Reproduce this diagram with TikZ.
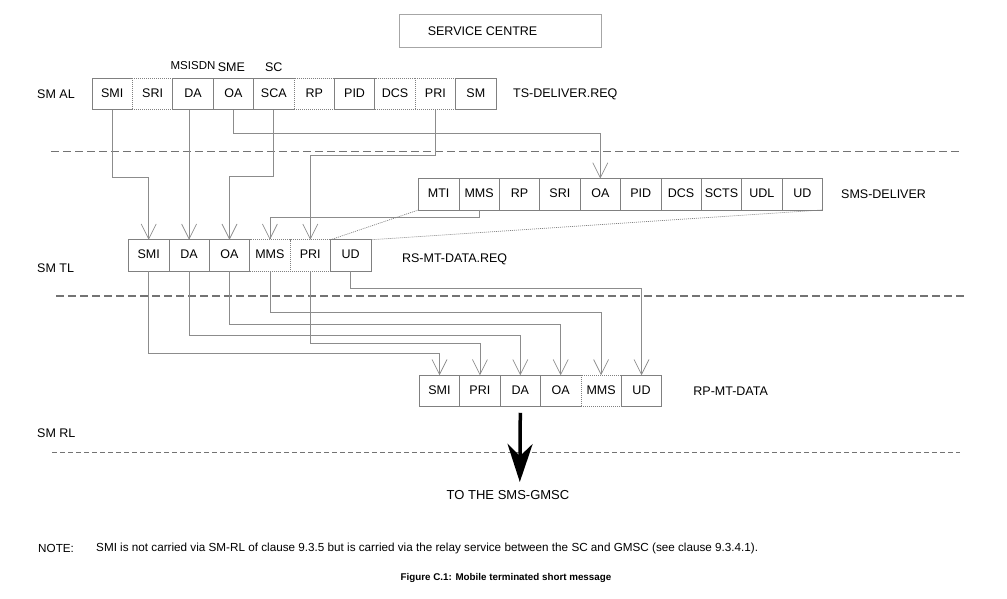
\documentclass[tikz,border=0pt]{standalone}
\usepackage{fontspec}
\setmainfont{Liberation Sans}
\usetikzlibrary{positioning,arrows.meta,calc}
\definecolor{boxgray}{gray}{0.5}
\definecolor{linegray}{gray}{0.55}
\definecolor{dashgray}{gray}{0.45}

\begin{document}
\begin{tikzpicture}[x=1pt,y=-1pt]

    \tikzstyle{field}=[draw=boxgray, line width=0.8pt, rectangle, fill=white, minimum height=31.5pt, minimum width=40.4pt, inner sep=0pt, outer sep=0pt, text height=9pt, text depth=3pt, font=\fontsize{12.5}{14}\selectfont];
    \tikzstyle{optfield}=[field, dash pattern=on 1pt off 1pt];
    \tikzstyle{lbl}=[inner sep=0pt, font=\fontsize{12.5}{14}\selectfont];
    \tikzstyle{link}=[draw=linegray, line width=0.7pt, -{Straight Barb[length=15pt,width=15pt]}];
    \tikzstyle{zoomline}=[draw=boxgray, line width=0.7pt, dash pattern=on 1pt off 1pt];
    \tikzstyle{layer}=[draw=dashgray, line width=1.2pt, dash pattern=on 8pt off 4pt];

    \useasboundingbox (0,0) rectangle (1007,598);

    % service centre
    \node (sc) at (500.5,30.7) [draw=boxgray!70, line width=0.8pt, rectangle, minimum height=33pt, minimum width=202pt]{};
    \node [lbl, right=28.5pt of sc.west]{SERVICE CENTRE};

    % SM AL : TS-DELIVER.REQ
    \node (aSMI) at (112.2,94) [field]{SMI};
    \node (aSRI) [optfield, right=0pt of aSMI]{SRI};
    \node (aDA) [field, right=0pt of aSRI]{DA};
    \node (aOA) [field, right=0pt of aDA]{OA};
    \node (aSCA) [field, right=0pt of aOA]{SCA};
    \node (aRP) [optfield, right=0pt of aSCA]{RP};
    \node (aPID) [field, right=0pt of aRP]{PID};
    \node (aDCS) [optfield, right=0pt of aPID]{DCS};
    \node (aPRI) [optfield, right=0pt of aDCS]{PRI};
    \node (aSM) [field, right=0pt of aPRI]{SM};
    \node (tsdeliver) [lbl, right=17pt of aSM]{TS-DELIVER.REQ};
    \node (smal) [lbl, anchor=west] at (37,94){SM AL};

    \node (msisdn) [lbl, font=\fontsize{11.5}{13}\selectfont, above=8pt of aDA]{MSISDN};
    \node (sme) [lbl, above=6.5pt of aOA, xshift=-2pt]{SME};
    \node (scaddr) [lbl, above=6.5pt of aSCA]{SC};

    % SMS-DELIVER
    \node (dMTI) at (438.7,194.2) [field]{MTI};
    \node (dMMS) [field, right=0pt of dMTI]{MMS};
    \node (dRP) [field, right=0pt of dMMS]{RP};
    \node (dSRI) [field, right=0pt of dRP]{SRI};
    \node (dOA) [field, right=0pt of dSRI]{OA};
    \node (dPID) [field, right=0pt of dOA]{PID};
    \node (dDCS) [field, right=0pt of dPID]{DCS};
    \node (dSCTS) [field, right=0pt of dDCS]{SCTS};
    \node (dUDL) [field, right=0pt of dSCTS]{UDL};
    \node (dUD) [field, right=0pt of dUDL]{UD};
    \node (smsdeliver) [lbl, right=18.5pt of dUD]{SMS-DELIVER};

    % SM TL : RS-MT-DATA.REQ
    \node (tSMI) at (148.7,255.5) [field]{SMI};
    \node (tDA) [field, right=0pt of tSMI]{DA};
    \node (tOA) [field, right=0pt of tDA]{OA};
    \node (tMMS) [optfield, right=0pt of tOA]{MMS};
    \node (tPRI) [optfield, right=0pt of tMMS]{PRI};
    \node (tUD) [field, right=0pt of tPRI]{UD};
    \node (rsmtdata) [lbl, right=31pt of tUD, yshift=-3.5pt]{RS-MT-DATA.REQ};
    \node (smtl) [lbl, anchor=west] at (37,268){SM TL};

    % SM RL : RP-MT-DATA
    \node (bSMI) at (439.5,391) [field]{SMI};
    \node (bPRI) [field, right=0pt of bSMI]{PRI};
    \node (bDA) [field, right=0pt of bPRI]{DA};
    \node (bOA) [field, right=0pt of bDA]{OA};
    \node (bMMS) [optfield, right=0pt of bOA]{MMS};
    \node (bUD) [field, right=0pt of bMMS]{UD};
    \node (rpmtdata) [lbl, right=31.5pt of bUD]{RP-MT-DATA};
    \node (smrl) [lbl, anchor=west] at (37,433){SM RL};

    % layer borders
    \coordinate (alL) at (51,151.7);
    \coordinate (alR) at (960,151.7);
    \coordinate (tlL) at (56,296);
    \coordinate (tlR) at (965,296);
    \coordinate (rlL) at (52,452);
    \coordinate (rlR) at (960,452);
    \draw[layer] (alL) -- (alR);
    \draw[layer] (tlL) -- (tlR);
    \draw[layer, line width=0.8pt, dash pattern=on 5pt off 3pt] (rlL) -- (rlR);

    % TS-DELIVER.REQ -> RS-MT-DATA.REQ / SMS-DELIVER
    \draw[link] (aSMI.south) -- ++(0,68) -| (tSMI.north);
    \draw[link] (aDA.south -| tDA.north) -- (tDA.north);
    \draw[link] (aOA.south) -- ++(0,24) -| (dOA.north);
    \draw[link] (aSCA.south) -- ++(0,67) -| (tOA.north);
    \draw[link] (aPRI.south) -- ++(0,46) -| (tPRI.north);
    \draw[link] (dMMS.south) -- ++(0,7) -| (tMMS.north);
    \draw[zoomline] (dMTI.south west) -- (tUD.north west);
    \draw[zoomline] (dUD.south east) -- (tUD.north east);

    % RS-MT-DATA.REQ -> RP-MT-DATA
    \draw[link] (tSMI.south) -- ++(0,82) -| (bSMI.north);
    \draw[link] (tDA.south) -- ++(0,64) -| (bDA.north);
    \draw[link] (tOA.south) -- ++(0,53) -| (bOA.north);
    \draw[link] (tMMS.south) -- ++(0,41) -| (bMMS.north);
    \draw[link] (tPRI.south) -- ++(0,72) -| (bPRI.north);
    \draw[link] (tUD.south) -- ++(0,17) -| (bUD.north);

    % to the SMS-GMSC
    \coordinate (gmsc) at (519.8,482);
    \draw[line width=3.5pt, -{Stealth[length=38pt,width=25pt,inset=12pt]}] ($(bDA.south)+(0,6)$) -- (gmsc);
    \node (gmsctext) [inner sep=0pt, font=\fontsize{13}{15}\selectfont] at (508,495){TO THE SMS-GMSC};

    % note and caption
    \node (notelabel) [inner sep=0pt, anchor=west, font=\fontsize{11.7}{13}\selectfont] at (38,548){NOTE:};
    \node (notetext) [inner sep=0pt, anchor=west, font=\fontsize{11.7}{13}\selectfont] at (96,548){SMI is not carried via SM-RL of clause 9.3.5 but is carried via the relay service between the SC and GMSC (see clause 9.3.4.1).};
    \node (caption) [inner sep=0pt, font=\bfseries\fontsize{9.8}{12}\selectfont] at (506,578){Figure C.1: Mobile terminated short message};

\end{tikzpicture}
\end{document}
